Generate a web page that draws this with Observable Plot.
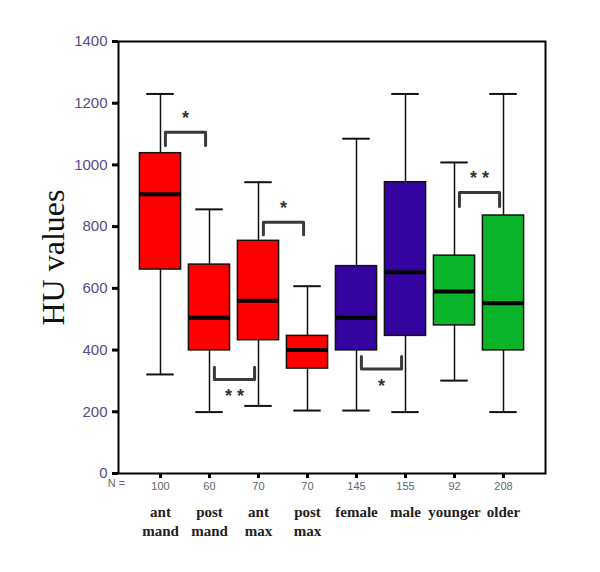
<!DOCTYPE html>
<html><head><meta charset="utf-8">
<script src="https://cdn.jsdelivr.net/npm/d3@7"></script>
<script src="https://cdn.jsdelivr.net/npm/@observablehq/plot@0.6"></script>
<style>body{margin:0;background:#fff}</style>
</head><body><div id="chart"></div>
<script>
const categories = ["ant\nmand","post\nmand","ant\nmax","post\nmax","female","male","younger","older"];
const nValues = [100,60,70,70,145,155,92,208];
const groups = ["jaw","jaw","jaw","jaw","sex","sex","age","age"];
const whiskerLow = [321,199,219,204,204,199,301,199];
const q1 = [661,399,432,340,399,446,480,399];
const median = [905,505,560,400,505,652,590,552];
const q3 = [1038,677,754,446,672,944,706,836];
const whiskerHigh = [1230,856,944,607,1085,1230,1008,1230];
const yTicks = [0,200,400,600,800,1000,1200,1400];
const bracketFrom = [0,1,2,4,6];
const bracketTo = [1,2,3,5,7];
const bracketBar = [1106,305,814,339,911];
const bracketEnd = [1063,344,774,379,865];
const bracketLabel = ["*","* *","*","*","* *"];

const groupColors = {jaw:"#ff0000", sex:"#3404a0", age:"#0bb52a"};
const idx = d3.range(categories.length);
const bw = 0.42, cw = 0.28;

const bracketPts = [];
bracketFrom.forEach((a,k) => {
  const l = a + 0.1, r = bracketTo[k] - 0.08;
  bracketPts.push({k, x:l, y:bracketEnd[k]},{k, x:l, y:bracketBar[k]},{k, x:r, y:bracketBar[k]},{k, x:r, y:bracketEnd[k]});
});
const brackets = bracketFrom.map((a,k) => ({k, x:(a+0.1 + bracketTo[k]-0.08)/2, y:bracketBar[k], label:bracketLabel[k], up: bracketBar[k] > bracketEnd[k]}));

const plot = Plot.plot({
  width: 600, height: 572,
  marginLeft: 118, marginRight: 55, marginTop: 41, marginBottom: 99,
  style: {fontFamily: "Liberation Sans", background: "#fff"},
  x: {domain: [-0.857, 7.857]},
  y: {domain: [0, 1400]},
  marks: [
    Plot.ruleX(idx, {x: i => i, y1: i => whiskerLow[i], y2: i => q1[i], stroke: "#111", strokeWidth: 1.5}),
    Plot.ruleX(idx, {x: i => i, y1: i => q3[i], y2: i => whiskerHigh[i], stroke: "#111", strokeWidth: 1.5}),
    Plot.ruleY(idx, {y: i => whiskerLow[i], x1: i => i - cw, x2: i => i + cw, stroke: "#111", strokeWidth: 2}),
    Plot.ruleY(idx, {y: i => whiskerHigh[i], x1: i => i - cw, x2: i => i + cw, stroke: "#111", strokeWidth: 2}),
    Plot.rect(idx, {x1: i => i - bw, x2: i => i + bw, y1: i => q1[i], y2: i => q3[i], fill: i => groupColors[groups[i]], stroke: "#111", strokeWidth: 1.5}),
    Plot.ruleY(idx, {y: i => median[i], x1: i => i - bw, x2: i => i + bw, stroke: "#000", strokeWidth: 4}),
    Plot.line(bracketPts, {x: "x", y: "y", z: "k", stroke: "#3a3a3a", strokeWidth: 3, strokeLinejoin: "round"}),
    Plot.text(brackets.filter(d => d.up), {x: "x", y: "y", text: "label", dy: -8, lineAnchor: "bottom", fontSize: 18, fontWeight: "bold", fill: "#333", fontFamily: "Liberation Sans"}),
    Plot.text(brackets.filter(d => !d.up), {x: "x", y: "y", text: "label", dy: 10, lineAnchor: "top", fontSize: 18, fontWeight: "bold", fill: "#333", fontFamily: "Liberation Sans"}),
    Plot.frame({stroke: "#000", strokeWidth: 2}),
    Plot.axisY({ticks: yTicks, tickFormat: d => String(d), tickSize: 6, tickPadding: 5, strokeWidth: 3, stroke: "#000", fill: "#5a4a8a", fontSize: 15, label: null}),
    Plot.axisX({ticks: idx, tickFormat: i => nValues[i], tickSize: 5, tickPadding: 4, strokeWidth: 3, stroke: "#000", fill: "#666", fontSize: 11, label: null}),
    Plot.text(["N ="], {frameAnchor: "bottom-left", textAnchor: "middle", dx: -2, dy: 13, fontSize: 11, fill: "#666"}),
    Plot.text(categories, {x: (d, i) => i, frameAnchor: "bottom", dy: 30, lineAnchor: "top", lineHeight: 1.27, fontSize: 15, fontWeight: "bold", fontFamily: "Liberation Serif", fill: "#222"}),
    Plot.text(["HU values"], {frameAnchor: "left", textAnchor: "middle", dx: -65, rotate: -90, fontSize: 32, fontFamily: "Liberation Serif", fill: "#111"})
  ]
});
document.getElementById("chart").appendChild(plot);
</script>
</body></html>
